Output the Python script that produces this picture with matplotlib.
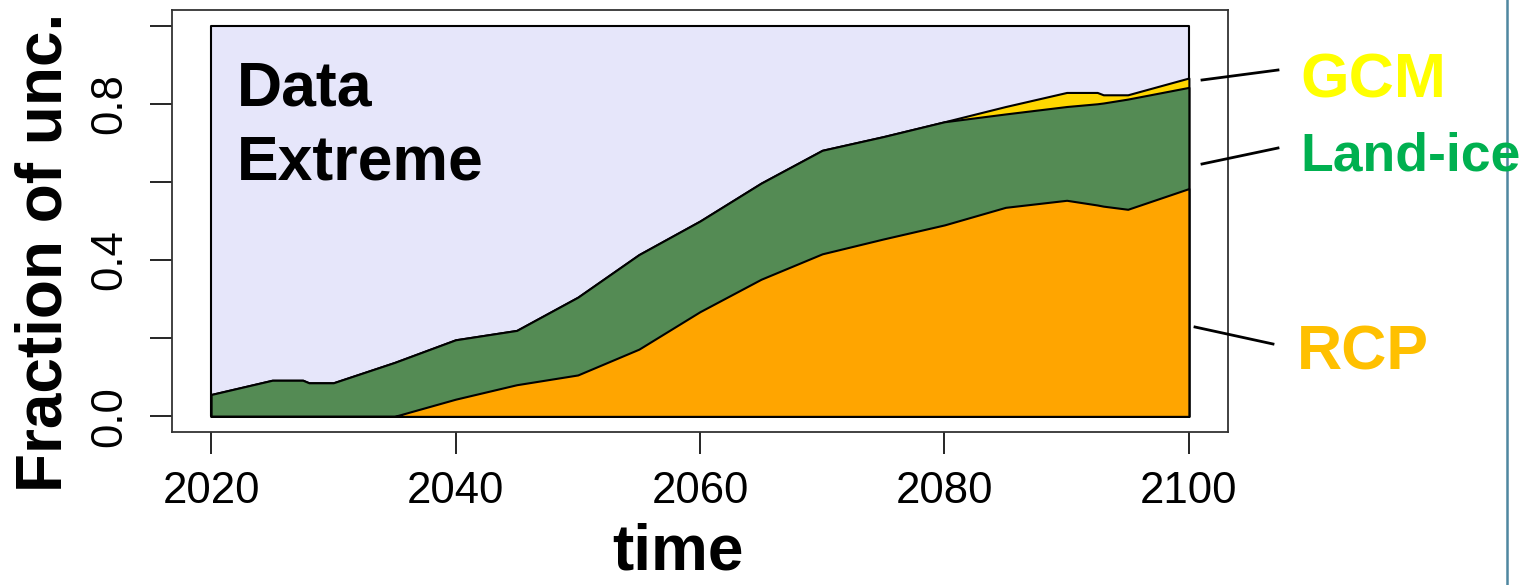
import matplotlib
matplotlib.use("Agg")
import matplotlib.pyplot as plt
import numpy as np

plt.rcParams['font.family'] = ['Liberation Sans', 'DejaVu Sans']

# ---- data (fractions of uncertainty) ----
years = [2020, 2025, 2027.5, 2028, 2030, 2035, 2040, 2045, 2050, 2055, 2060,
         2065, 2070, 2075, 2080, 2085, 2090, 2092.5, 2093, 2095, 2100]
rcp = [0.0, 0.0, 0.0, 0.0, 0.0, 0.0, 0.044, 0.081, 0.106, 0.172, 0.268,
       0.351, 0.416, 0.454, 0.490, 0.535, 0.553, 0.541, 0.538, 0.530, 0.583]
land_ice = [0.056, 0.0925, 0.0925, 0.086, 0.086, 0.138, 0.152, 0.139, 0.199, 0.242, 0.232,
            0.246, 0.265, 0.262, 0.264, 0.239, 0.240, 0.259, 0.264, 0.282, 0.259]
gcm = [0.0, 0.0, 0.0, 0.0, 0.0, 0.0, 0.0, 0.0, 0.0, 0.0, 0.0,
       0.0, 0.0, 0.0, 0.0, 0.019, 0.036, 0.029, 0.021, 0.011, 0.024]

x_ticks = [2020, 2040, 2060, 2080, 2100]
y_ticks = [0.0, 0.2, 0.4, 0.6, 0.8, 1.0]
y_tick_labels = ['0.0', '', '0.4', '', '0.8', '']
labels = ['GCM', 'Land-ice', 'RCP']

W, H = 1535, 585
fig = plt.figure(figsize=(W / 100, H / 100), dpi=100)
ax = fig.add_axes([172 / W, 1 - 432 / H, (1228 - 172) / W, (432 - 10) / H])

x = np.array(years, dtype=float)
r = np.array(rcp)
l = r + np.array(land_ice)
g = l + np.array(gcm)

# background (total = 1)
ax.fill_between(x, 0, 1, facecolor='#E6E6FA', edgecolor='black', linewidth=1.5, zorder=1)
ax.fill_between(x, 0, g, facecolor='#FFD700', edgecolor='black', linewidth=1.5, zorder=2)
ax.fill_between(x, 0, l, facecolor='#548B54', edgecolor='black', linewidth=1.5, zorder=3)
ax.fill_between(x, 0, r, facecolor='#FFA500', edgecolor='black', linewidth=1.5, zorder=4)

ax.set_xlim(2016.8, 2103.2)
ax.set_ylim(-0.04, 1.04)
ax.set_xticks(x_ticks)
ax.set_xticklabels([str(t) for t in x_ticks])
ax.set_yticks(y_ticks)
ax.set_yticklabels(y_tick_labels, rotation=90, va='center')
ax.tick_params(axis='both', length=16, width=1.2, labelsize=31.5, color='black')
ax.tick_params(axis='x', pad=12)
ax.tick_params(axis='y', pad=14)
for s in ax.spines.values():
    s.set_linewidth(1.3)
    s.set_color('#333333')

fig.text(237 / W, 1 - 105 / H, 'Data', fontsize=45, fontweight='bold',
         color='black', va='baseline', ha='left', zorder=10)
fig.text(237 / W, 1 - 180 / H, 'Extreme', fontsize=45, fontweight='bold',
         color='black', va='baseline', ha='left', zorder=10)

fig.text(678 / W, 1 - 583 / H, 'time', fontsize=46, fontweight='bold',
         ha='center', va='bottom')
fig.text(14 / W, 1 - 252 / H, 'Fraction of unc.', fontsize=46, fontweight='bold',
         rotation=90, ha='left', va='center')

# annotation labels on the right
fig.text(1300 / W, 1 - 97 / H, labels[0], fontsize=45, fontweight='bold',
         color='#FFFF00', ha='left', va='baseline')
fig.text(1300 / W, 1 - 170 / H, labels[1], fontsize=38.5, fontweight='bold',
         color='#00B050', ha='left', va='baseline')
fig.text(1297 / W, 1 - 370 / H, labels[2], fontsize=45, fontweight='bold',
         color='#FFC000', ha='left', va='baseline')

line_kw = dict(color='black', linewidth=2, transform=fig.transFigure, clip_on=False)
fig.add_artist(plt.Line2D([1202 / W, 1278 / W], [1 - 80 / H, 1 - 70 / H], **line_kw))
fig.add_artist(plt.Line2D([1202 / W, 1278 / W], [1 - 164 / H, 1 - 148 / H], **line_kw))
fig.add_artist(plt.Line2D([1195 / W, 1273 / W], [1 - 327 / H, 1 - 344 / H], **line_kw))

# vertical divider on the far right
fig.add_artist(plt.Line2D([1507 / W, 1507 / W], [0, 1], color='#4F87A0', linewidth=1.8,
                          transform=fig.transFigure))

fig.savefig('out.png', dpi=100)
